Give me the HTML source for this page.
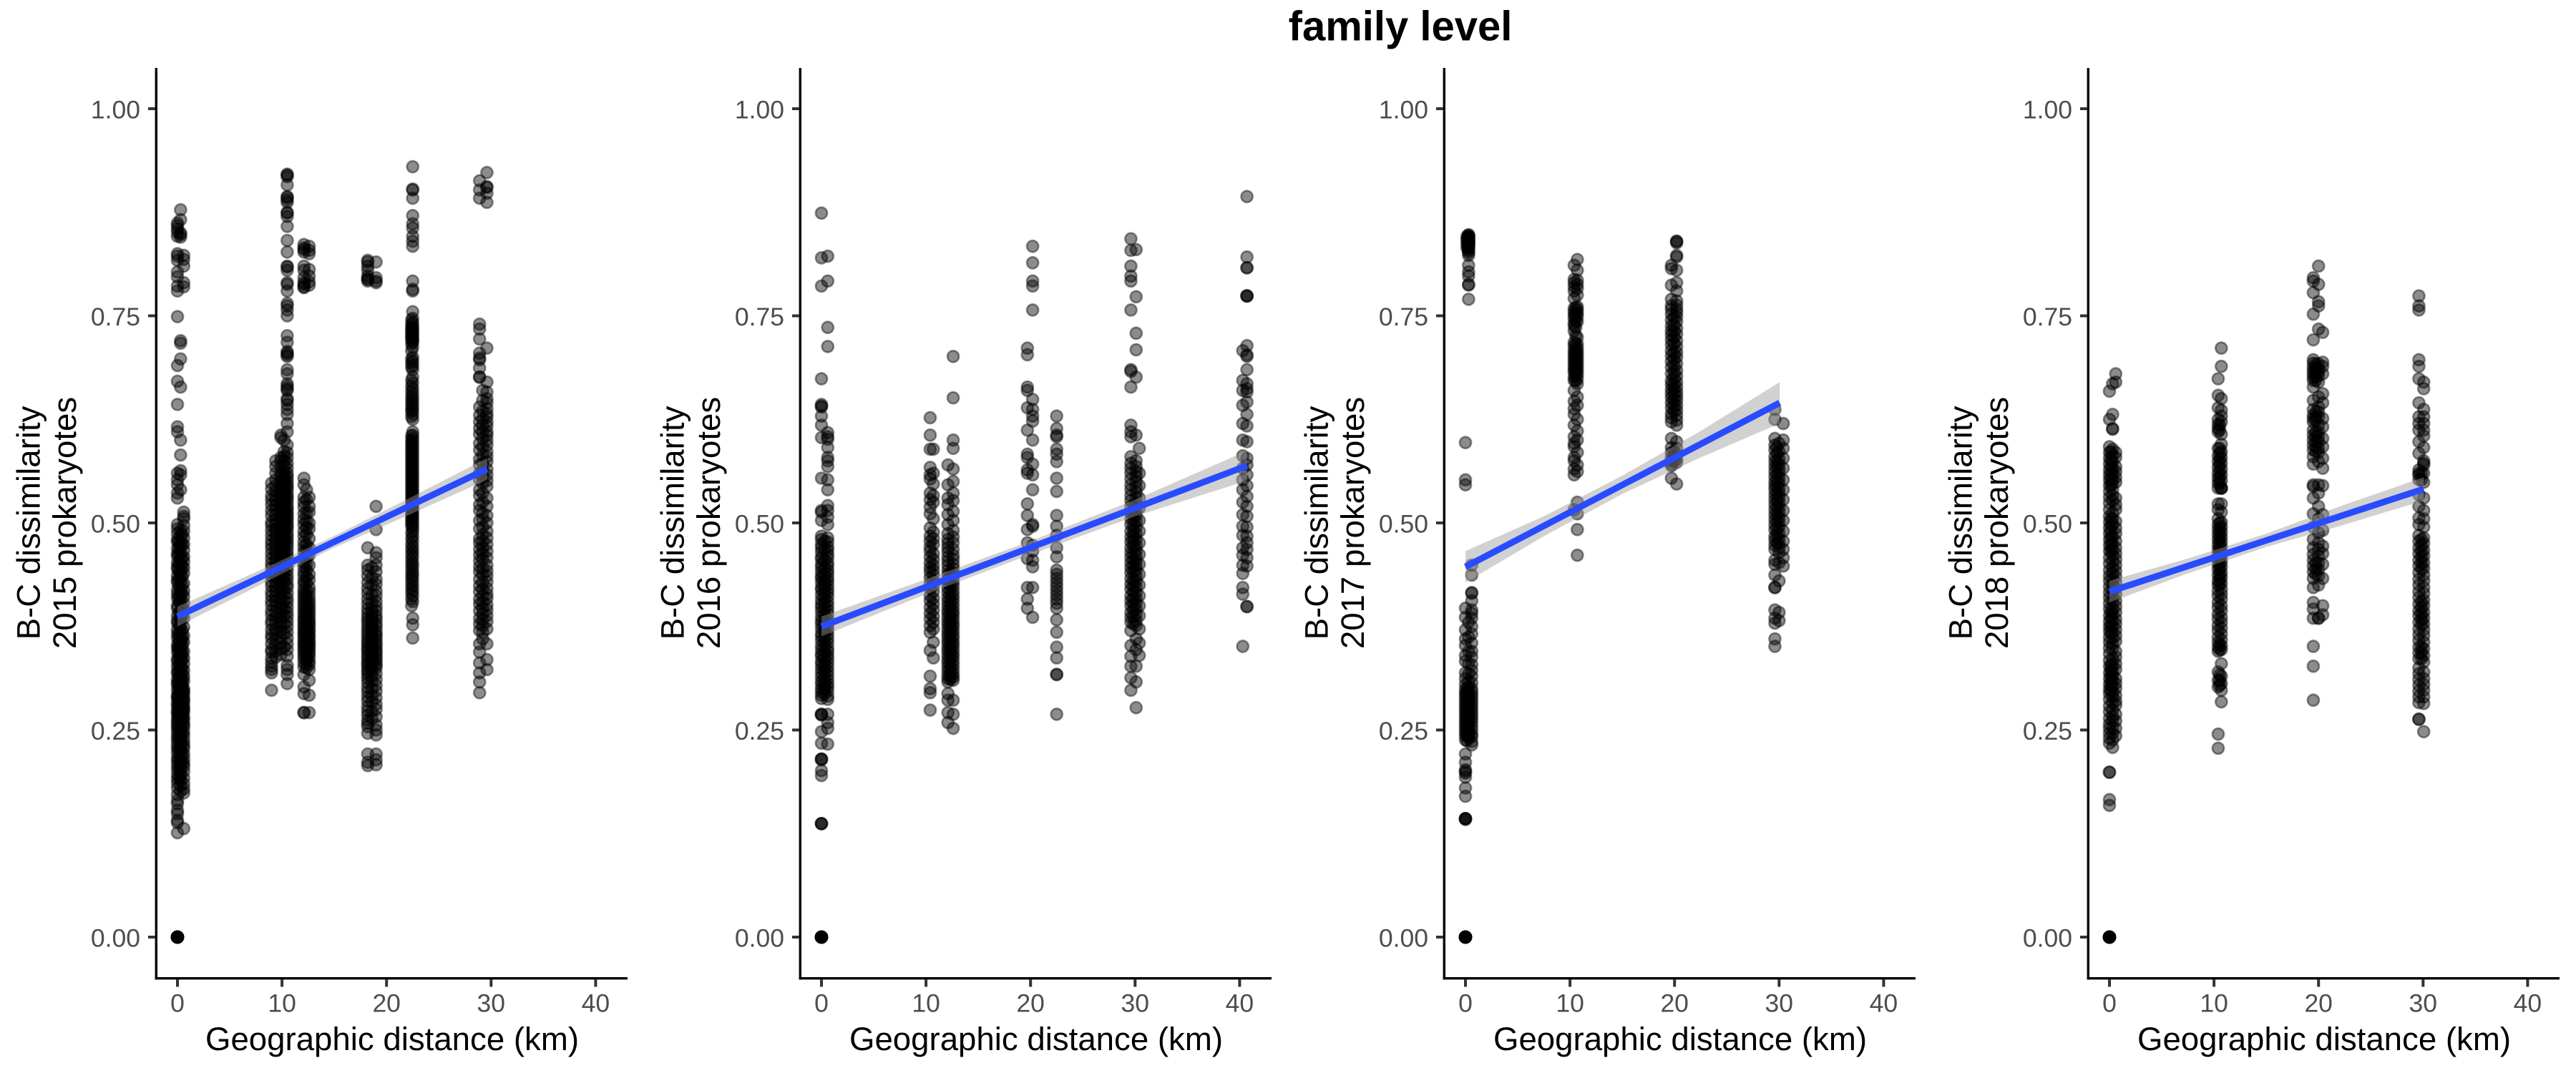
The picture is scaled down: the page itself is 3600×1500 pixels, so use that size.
<!DOCTYPE html>
<html lang="en">
<head>
<meta charset="utf-8">
<title>family level</title>
<style>
html,body{margin:0;padding:0;background:#fff;width:3600px;height:1500px;overflow:hidden}
svg{display:block}
text{font-family:"Liberation Sans",Arial,sans-serif}
</style>
</head>
<body>
<svg id="figure" xmlns="http://www.w3.org/2000/svg" width="3600" height="1500" viewBox="0 0 3600 1500">
<rect x="0" y="0" width="3600" height="1500" fill="#fff"/>
<text x="1957" y="56.5" font-size="58" font-weight="700" text-anchor="middle" fill="#000">family level</text>
</svg>
<script>
const xTickValues = [0, 10, 20, 30, 40];
const yTickValues = [0, 0.25, 0.5, 0.75, 1];
const yTickLabels = ["0.00", "0.25", "0.50", "0.75", "1.00"];
const years = [2015, 2016, 2017, 2018];

const zeroPoints = [0, 0, 0, 0, 0, 0, 0, 0, 0];

const distances2015 = [0, 0.3, 0.6, 9.0, 9.9, 10.5, 12.1, 12.6, 18.2, 19.0, 22.5, 28.9, 29.6, 0.15, 0.45, 9.4, 10.2, 12.35, 18.6, 22.4, 29.2];
const dissimilarity2015 = [
[.862,.859,.855,.851,.846,.825,.822,.817,.803,.797,.786,.780,.749,.690,.671,.643,.616,.610,.560,.552,.546,.536,.530,.498,.493,.487,.480,.477,.469,.463,.460,.452,.447,.444,.436,.431,.428,.419,.414,.409,.400,.397,.388,.382,.379,.371,.366,.361,.353,.349,.344,.336,.333,.327,.321,.318,.311,.307,.304,.298,.292,.290,.287,.282,.279,.274,.271,.268,.263,.260,.256,.253,.249,.244,.240,.236,.231,.227,.222,.216,.212,.207,.202,.196,.191,.186,.180,.172,.165,.161,.153,.149,.141,.138,.126],
[.878,.866,.850,.848,.845,.720,.717,.698,.664,.600,.582,.563,.558,.540,.491,.484,.476,.472,.463,.456,.450,.441,.437,.430,.421,.416,.410,.404,.393,.386,.383,.375,.369,.358,.354,.347,.339,.334,.329,.324,.316,.313,.306,.302,.296,.293,.288,.284,.281,.276,.273,.270,.265,.261,.258,.252,.250,.245,.241,.238,.233,.229,.225,.219,.213,.209,.204,.199,.194,.189,.183,.176],
[.823,.818,.810,.790,.785,.513,.508,.505,.497,.490,.482,.474,.467,.459,.453,.446,.439,.427,.418,.411,.403,.394,.385,.374,.364,.356,.345,.337,.330,.322,.315,.309,.300,.297,.294,.289,.286,.283,.278,.275,.272,.266,.262,.257,.254,.248,.243,.237,.232,.228,.221,.215,.210,.206,.200,.192,.185,.179,.174,.131],
[.548,.541,.533,.528,.522,.515,.509,.501,.497,.491,.485,.479,.474,.469,.463,.457,.451,.446,.440,.436,.429,.424,.417,.412,.406,.401,.394,.389,.382,.378,.371,.365,.361,.354,.347,.344,.337,.332,.327,.323,.319,.298],
[.606,.603,.579,.575,.568,.561,.557,.552,.549,.544,.540,.537,.533,.530,.526,.522,.519,.516,.512,.509,.505,.502,.498,.495,.492,.489,.485,.482,.478,.475,.471,.468,.464,.461,.457,.454,.450,.447,.442,.439,.434,.430,.425,.421,.416,.411,.407,.402,.397,.391,.386,.380,.375,.369,.362,.355,.348,.341],
[.921,.920,.918,.908,.894,.893,.890,.887,.875,.874,.870,.858,.841,.827,.810,.809,.805,.790,.788,.780,.765,.762,.757,.750,.726,.718,.707,.705,.703,.701,.685,.680,.668,.665,.662,.660,.650,.648,.643,.637,.631,.620,.610,.594,.585,.579,.572,.566,.560,.556,.552,.548,.544,.541,.536,.532,.529,.525,.520,.517,.513,.510,.506,.503,.499,.496,.493,.488,.484,.480,.476,.472,.467,.462,.458,.453,.448,.443,.437,.432,.426,.422,.415,.409,.404,.398,.392,.387,.381,.375,.368,.361,.354,.347,.339,.328,.323,.317,.306],
[.836,.832,.830,.827,.810,.805,.796,.790,.788,.785,.784,.554,.546,.531,.525,.519,.511,.504,.498,.490,.484,.477,.471,.465,.458,.452,.447,.441,.436,.430,.426,.420,.416,.412,.408,.404,.400,.396,.392,.388,.384,.381,.377,.374,.370,.367,.364,.361,.357,.354,.351,.347,.344,.340,.336,.331,.326,.317,.302,.294,.271,.271],
[.834,.829,.825,.806,.798,.791,.787,.531,.520,.513,.500,.493,.481,.470,.461,.449,.438,.431,.422,.417,.411,.406,.402,.398,.394,.390,.386,.382,.379,.376,.372,.369,.365,.362,.358,.355,.352,.349,.345,.342,.338,.333,.329,.323,.310,.292,.271],
[.817,.815,.810,.805,.798,.795,.794,.792,.470,.449,.443,.436,.428,.421,.415,.408,.402,.396,.391,.386,.382,.378,.373,.369,.365,.361,.357,.354,.350,.347,.344,.340,.337,.333,.330,.327,.323,.320,.316,.312,.307,.301,.296,.290,.285,.278,.273,.268,.262,.258,.254,.246,.221,.211,.207],
[.815,.796,.792,.790,.520,.492,.464,.458,.449,.441,.432,.426,.418,.412,.405,.399,.394,.388,.384,.379,.375,.370,.366,.363,.359,.355,.352,.348,.345,.342,.338,.335,.331,.328,.325,.318,.311,.304,.297,.289,.281,.275,.266,.256,.250,.244,.221,.214,.208],
[.930,.903,.902,.892,.871,.861,.856,.846,.840,.834,.792,.782,.780,.755,.747,.742,.738,.735,.732,.729,.726,.723,.720,.718,.712,.700,.695,.690,.685,.676,.669,.662,.656,.651,.646,.641,.636,.631,.625,.610,.606,.602,.598,.594,.590,.586,.582,.578,.574,.570,.566,.562,.558,.554,.550,.546,.542,.538,.534,.530,.526,.522,.518,.514,.510,.506,.502,.498,.494,.490,.484,.478,.471,.465,.459,.452,.447,.441,.436,.430,.424,.418,.412,.405,.385,.377,.361],
[.913,.902,.892,.740,.734,.722,.705,.699,.697,.687,.676,.676,.640,.630,.622,.614,.607,.596,.588,.577,.570,.560,.552,.540,.533,.522,.515,.503,.493,.481,.476,.468,.461,.454,.447,.441,.432,.424,.417,.408,.402,.394,.385,.378,.370,.354,.344,.331,.319,.308,.295],
[.923,.906,.905,.898,.887,.711,.670,.658,.650,.645,.638,.632,.628,.622,.617,.610,.606,.600,.594,.586,.580,.574,.565,.558,.551,.544,.530,.520,.509,.500,.490,.482,.474,.466,.458,.449,.442,.436,.429,.421,.414,.409,.401,.395,.388,.381,.372,.354,.335,.323],
[.478,.471,.462,.451,.442,.432,.423,.411,.405,.392,.377,.366,.360,.355,.350,.348,.343,.338,.329,.320,.315,.310,.306,.302,.298,.294,.290,.286,.283,.280,.277,.274,.271,.268,.265,.262,.250,.240,.226,.215,.204,.193],
[.486,.474,.458,.447,.435,.425,.415,.399,.388,.370,.363,.358,.352,.346,.341,.335,.325,.318,.312,.308,.304,.300,.296,.292,.288,.284,.281,.278,.275,.272,.269,.267,.263,.257,.246,.234,.222,.211],
[.575,.568,.560,.552,.545,.538,.533,.527,.521,.516,.510,.504,.499,.493,.488,.483,.477,.472,.466,.461,.456,.451,.445,.440,.434,.428,.423,.418,.411,.405,.399,.392,.386,.379,.372,.366,.359,.352,.345,.338],
[.600,.586,.580,.574,.569,.563,.558,.553,.549,.545,.541,.538,.534,.531,.527,.524,.520,.517,.514,.511,.507,.504,.500,.497,.494,.490,.486,.483,.479,.476,.472,.469,.465,.459,.455,.449,.444,.438,.433,.428,.420,.414,.405,.396,.388,.378,.367,.350],
[.540,.528,.512,.502,.494,.486,.474,.468,.459,.450,.443,.435,.428,.418,.411,.405,.399,.394,.389,.385,.380,.375,.371,.368,.363,.360,.356,.353,.350,.346,.343,.339,.335,.330,.325],
[.446,.434,.425,.413,.404,.398,.392,.387,.383,.379,.374,.371,.367,.364,.360,.356,.353,.349,.346,.343,.339,.336,.332,.329,.326,.321,.315,.309,.300,.292,.284,.272,.264],
[.745,.740,.736,.733,.730,.727,.724,.721,.716,.708,.698,.693,.688,.672,.665,.659,.653,.648,.643,.638,.634,.628,.605,.600,.596,.592,.588,.584,.580,.576,.572,.568,.564,.560,.556,.552,.548,.544,.540,.536,.532,.528,.524,.520,.516,.512,.508,.504,.500,.496,.488,.481,.474,.468,.462,.456,.450,.444,.438,.433,.427,.421,.415,.408,.400],
[.660,.648,.635,.625,.618,.610,.602,.592,.582,.572,.563,.555,.548,.536,.525,.512,.505,.495,.486,.478,.470,.463,.456,.445,.438,.428,.420,.412,.404,.397,.390,.383,.376,.368,.360]
];
const fitX2015 = [0, 29.6];
const fitY2015 = [.387, .565];
const bandX2015 = [0, 7.4, 14.8, 22.2, 29.6];
const bandLow2015 = [.375, .422, .469, .510, .552];
const bandHigh2015 = [.399, .440, .483, .530, .578];

const distances2016 = [0, 0.6, 10.4, 10.7, 12.1, 12.6, 19.7, 20.2, 22.5, 29.6, 30.1, 30.4, 40.3, 40.7, 0.3, 12.35, 29.85];
const dissimilarity2016 = [
[.874,.820,.786,.674,.643,.641,.640,.629,.618,.603,.554,.515,.513,.503,.484,.480,.474,.470,.465,.459,.456,.450,.446,.441,.436,.433,.428,.422,.419,.413,.407,.402,.398,.393,.387,.382,.378,.373,.367,.363,.358,.352,.347,.342,.339,.333,.329,.324,.319,.314,.309,.305,.300,.296,.292,.288,.269,.269,.268,.248,.234,.215,.215,.214,.201,.195,.137,.137,.137],
[.822,.792,.736,.713,.609,.604,.601,.591,.579,.575,.568,.552,.540,.521,.515,.507,.498,.482,.477,.471,.467,.462,.458,.452,.448,.443,.439,.434,.430,.425,.420,.416,.411,.405,.400,.395,.390,.384,.380,.375,.370,.365,.360,.355,.349,.345,.340,.336,.331,.326,.321,.316,.311,.306,.302,.297,.291,.287,.269,.259,.252,.233],
[.627,.606,.589,.567,.558,.553,.536,.528,.519,.511,.494,.484,.478,.471,.466,.459,.452,.446,.441,.434,.427,.421,.412,.406,.398,.391,.384,.376,.368,.346,.315,.300,.295,.274],
[.589,.560,.547,.533,.525,.505,.489,.481,.474,.463,.456,.449,.443,.437,.430,.424,.417,.409,.402,.395,.387,.380,.372,.356,.337],
[.570,.546,.530,.522,.510,.498,.487,.480,.475,.470,.465,.459,.454,.449,.443,.438,.432,.427,.421,.416,.410,.405,.400,.395,.391,.386,.381,.377,.372,.367,.363,.358,.354,.349,.345,.340,.335,.331,.326,.321,.316,.312,.308,.294,.286,.271,.259],
[.701,.651,.600,.590,.565,.550,.536,.527,.514,.503,.491,.483,.476,.468,.461,.456,.450,.445,.440,.435,.429,.424,.418,.413,.408,.403,.398,.393,.389,.384,.379,.375,.370,.365,.361,.356,.352,.347,.342,.338,.333,.328,.323,.318,.314,.310,.286,.269,.252],
[.711,.703,.664,.660,.639,.612,.583,.579,.564,.560,.523,.509,.492,.476,.457,.422,.408,.397],
[.834,.814,.792,.786,.757,.649,.637,.629,.623,.600,.571,.558,.540,.496,.498,.473,.466,.455,.447,.422,.386],
[.629,.614,.606,.604,.589,.583,.574,.554,.538,.509,.496,.485,.470,.459,.443,.438,.433,.428,.423,.418,.413,.408,.403,.397,.383,.368,.350,.337,.317,.317,.269],
[.843,.829,.810,.798,.792,.757,.685,.683,.664,.618,.610,.604,.580,.572,.566,.560,.553,.546,.540,.533,.527,.520,.512,.505,.498,.490,.483,.477,.470,.464,.458,.452,.446,.440,.433,.426,.420,.412,.406,.400,.392,.386,.380,.370,.352,.339,.327,.313,.298],
[.830,.773,.729,.709,.676,.606,.575,.568,.562,.556,.550,.543,.537,.530,.523,.516,.509,.502,.495,.487,.480,.473,.467,.461,.455,.449,.443,.436,.430,.423,.416,.409,.403,.396,.389,.382,.376,.360,.347,.327,.308,.277],
[.590,.560,.545,.530,.518,.503,.490,.476,.462,.450,.438,.425,.412,.400,.388,.372,.355,.340],
[.708,.672,.660,.642,.620,.600,.581,.566,.552,.540,.525,.510,.496,.485,.470,.461,.449,.439,.422,.414,.351],
[.894,.821,.808,.808,.774,.774,.774,.714,.703,.701,.685,.668,.662,.658,.646,.631,.617,.598,.578,.570,.558,.545,.532,.520,.508,.495,.484,.476,.468,.458,.448,.399,.399],
[.478,.468,.455,.445,.437,.431,.426,.421,.415,.409,.403,.396,.389,.383,.377,.372,.368,.362,.356,.350,.343,.337,.330,.325,.320,.313,.307,.303,.299,.294],
[.440,.431,.425,.418,.412,.406,.401,.396,.390,.385,.380,.375,.371,.366,.360,.355,.350,.346,.341,.336,.330,.325,.319,.315,.311],
[.520,.512,.505,.497,.490,.484,.478,.472,.463,.455,.448,.441,.431,.424,.417,.409,.402,.395,.387,.378]
];
const fitX2016 = [0, 40.7];
const fitY2016 = [.375, .569];
const bandX2016 = [0, 10, 20, 30, 40.7];
const bandLow2016 = [.363, .414, .462, .508, .551];
const bandHigh2016 = [.387, .432, .478, .528, .587];

const distances2017 = [0, 0.3, 0.6, 10.4, 10.7, 19.7, 20.2, 29.6, 30.0, 30.4, 0.15, 10.55, 19.95, 29.8];
const dissimilarity2017 = [
[.597,.552,.546,.397,.386,.371,.360,.352,.340,.333,.319,.312,.305,.299,.295,.291,.287,.283,.279,.275,.271,.267,.263,.259,.255,.251,.247,.243,.238,.221,.211,.202,.200,.198,.193,.180,.170,.143,.143,.143,.142],
[.848,.847,.846,.845,.844,.843,.842,.841,.840,.839,.838,.837,.836,.835,.834,.832,.830,.828,.826,.823,.811,.803,.798,.788,.787,.770,.380,.362,.345,.330,.318,.308,.302,.296,.291,.286,.282,.277,.273,.268,.264,.260,.256,.252,.247,.243,.240],
[.449,.437,.416,.415,.406,.395,.391,.385,.375,.366,.355,.345,.338,.329,.322,.315,.307,.300,.296,.292,.288,.284,.280,.276,.272,.268,.264,.260,.255,.250,.245,.242,.236,.232],
[.811,.794,.790,.785,.780,.771,.759,.755,.751,.747,.741,.738,.732,.718,.714,.709,.705,.701,.697,.693,.689,.685,.682,.676,.672,.660,.647,.638,.631,.618,.604,.596,.592,.579,.575,.565,.558,.516],
[.818,.805,.793,.788,.783,.775,.761,.757,.753,.749,.743,.724,.716,.711,.707,.703,.699,.695,.691,.687,.683,.679,.674,.668,.652,.642,.625,.611,.600,.585,.570,.562,.525,.511,.492,.461],
[.811,.807,.787,.770,.762,.758,.752,.745,.738,.732,.727,.721,.715,.708,.702,.695,.688,.680,.672,.667,.661,.656,.651,.645,.639,.632,.627,.622,.602,.591,.585,.579,.575,.571,.569,.554],
[.840,.840,.838,.823,.821,.805,.790,.780,.768,.763,.758,.754,.749,.743,.735,.728,.720,.713,.706,.700,.692,.684,.677,.670,.664,.658,.653,.648,.642,.636,.630,.624,.618,.598,.590,.583,.577,.573,.547],
[.637,.625,.602,.594,.588,.580,.574,.568,.562,.556,.550,.545,.540,.534,.528,.522,.516,.510,.504,.498,.492,.484,.479,.473,.468,.455,.450,.437,.422,.422,.395,.385,.379,.360,.351],
[.596,.586,.577,.571,.565,.560,.554,.548,.542,.536,.531,.525,.519,.513,.507,.501,.495,.487,.481,.475,.470,.464,.452,.430,.392,.382],
[.620,.600,.590,.578,.566,.552,.540,.528,.515,.503,.490,.478,.468,.458,.448],
[.846,.843,.840,.836,.832,.300,.293,.287,.281,.277,.273,.270,.266,.262,.258,.254,.249,.244,.237],
[.760,.752,.744,.736,.726,.716,.708,.702,.696,.690,.684,.678,.671],
[.748,.738,.731,.724,.716,.705,.698,.690,.682,.675,.668,.662,.656,.649,.642,.635,.586,.580,.574],
[.592,.584,.575,.568,.559,.551,.544,.535,.527,.519,.510,.502,.493,.485,.476]
];
const fitX2017 = [0, 30.06];
const fitY2017 = [.447, .645];
const bandX2017 = [0, 7.5, 15, 22.5, 30.06];
const bandLow2017 = [.428, .484, .535, .579, .620];
const bandHigh2017 = [.466, .508, .557, .611, .670];

const distances2018 = [0, 0.3, 0.6, 10.4, 10.7, 19.5, 20, 20.4, 29.6, 30.06, 0.15, 10.55, 19.75, 29.85];
const dissimilarity2018 = [
[.659,.625,.592,.585,.578,.571,.564,.558,.552,.545,.538,.531,.524,.516,.508,.501,.494,.487,.480,.473,.466,.458,.451,.443,.436,.430,.423,.416,.410,.403,.396,.388,.381,.375,.369,.362,.356,.349,.342,.334,.327,.319,.312,.305,.299,.294,.287,.279,.272,.264,.257,.252,.246,.240,.234,.199,.199,.166,.159],
[.668,.631,.614,.613,.589,.581,.574,.566,.560,.553,.547,.540,.533,.527,.512,.505,.498,.484,.476,.468,.461,.454,.446,.440,.433,.426,.420,.412,.405,.397,.390,.383,.376,.368,.361,.354,.348,.336,.329,.321,.316,.310,.303,.295,.290,.283,.274,.266,.261,.253,.246,.238,.229],
[.680,.670,.585,.579,.568,.562,.555,.549,.530,.522,.516,.502,.494,.487,.478,.470,.463,.456,.449,.442,.435,.428,.421,.414,.406,.399,.392,.384,.378,.371,.364,.357,.345,.338,.330,.323,.312,.306,.300,.292,.285,.280,.269,.261,.252,.243],
[.674,.654,.639,.625,.619,.614,.610,.590,.581,.574,.567,.560,.554,.548,.542,.523,.516,.505,.498,.492,.486,.480,.474,.468,.462,.456,.450,.444,.437,.430,.425,.418,.412,.404,.398,.390,.384,.376,.370,.362,.356,.350,.345,.320,.310,.302,.245,.228],
[.711,.689,.650,.636,.629,.622,.607,.595,.586,.579,.572,.565,.558,.551,.542,.542,.542,.523,.513,.501,.495,.489,.483,.477,.471,.465,.459,.453,.447,.440,.434,.427,.420,.414,.408,.400,.394,.386,.380,.373,.366,.359,.352,.347,.330,.315,.306,.298,.284],
[.796,.792,.778,.752,.721,.697,.693,.688,.684,.680,.676,.672,.664,.648,.637,.630,.626,.622,.612,.606,.600,.594,.588,.580,.571,.546,.544,.530,.511,.495,.480,.470,.462,.455,.448,.441,.433,.422,.404,.396,.385,.351,.327,.286],
[.810,.788,.767,.762,.734,.692,.686,.682,.678,.670,.652,.640,.634,.628,.618,.610,.604,.598,.590,.585,.574,.546,.536,.520,.505,.488,.476,.468,.460,.452,.444,.436,.425,.385,.385],
[.730,.694,.689,.680,.656,.645,.626,.616,.602,.592,.578,.566,.545,.510,.491,.472,.463,.450,.433,.400,.389],
[.774,.762,.757,.697,.689,.674,.645,.628,.620,.612,.598,.584,.564,.560,.558,.552,.534,.520,.506,.498,.485,.478,.470,.463,.455,.448,.440,.432,.425,.417,.410,.402,.394,.388,.380,.372,.365,.358,.350,.343,.336,.325,.318,.311,.304,.297,.290,.283,.263,.263],
[.670,.662,.637,.628,.620,.612,.605,.591,.575,.572,.570,.560,.549,.530,.515,.505,.495,.482,.475,.467,.460,.452,.445,.437,.430,.422,.415,.407,.400,.392,.385,.378,.371,.364,.356,.348,.340,.332,.320,.312,.305,.298,.290,.282,.248],
[.586,.576,.568,.560,.553,.546,.505,.497,.490,.482,.474,.466,.393,.385,.376,.368,.328,.322,.316,.310,.304,.298],
[.618,.612,.590,.584,.577,.570,.562,.555,.548,.500,.494,.488,.482,.476,.470,.464,.458,.451,.445,.438,.432,.426,.353,.347,.317,.310,.304],
[.692,.688,.684,.680,.676,.672,.634,.628,.624,.610,.604,.598,.592,.586,.452,.445,.438],
[.560,.552,.480,.473,.466,.459,.452,.445,.405,.398,.391,.384,.378,.350,.343,.336]
];
const fitX2018 = [0, 30.06];
const fitY2018 = [.417, .541];
const bandX2018 = [0, 7.5, 15, 22.5, 30.06];
const bandLow2018 = [.404, .439, .471, .498, .527];
const bandHigh2018 = [.430, .457, .487, .522, .555];

const distancesByPanel = [distances2015, distances2016, distances2017, distances2018];
const dissimilarityByPanel = [dissimilarity2015, dissimilarity2016, dissimilarity2017, dissimilarity2018];
const fitXByPanel = [fitX2015, fitX2016, fitX2017, fitX2018];
const fitYByPanel = [fitY2015, fitY2016, fitY2017, fitY2018];
const bandXByPanel = [bandX2015, bandX2016, bandX2017, bandX2018];
const bandLowByPanel = [bandLow2015, bandLow2016, bandLow2017, bandLow2018];
const bandHighByPanel = [bandHigh2015, bandHigh2016, bandHigh2017, bandHigh2018];

const NS = "http://www.w3.org/2000/svg";
const figure = document.getElementById("figure");
function xScale(km) { return 248 + 14.61 * km; }
function yScale(v) { return 1310 - 1158 * v; }
function make(parent, tag, attrs, text) {
  const el = document.createElementNS(NS, tag);
  for (const k in attrs) el.setAttribute(k, attrs[k]);
  if (text !== undefined) el.textContent = text;
  parent.appendChild(el);
  return el;
}

years.forEach(function (year, p) {
  const panel = make(figure, "g", { transform: "translate(" + (900 * p) + ",0)" });
  
  

  const points = make(panel, "g", {});
  
  
  dissimilarityByPanel[p].forEach(function (column, c) {
    column.forEach(function (value) {
      const dot = make(points, "circle", { cx: xScale(distancesByPanel[p][c]), cy: yScale(value), r: 8.1, fill: "rgba(0,0,0,.45)", stroke: "rgba(0,0,0,.42)", "stroke-width": 2.6 });
      
      
    });
  });
  zeroPoints.forEach(function (value) {
    const dot = make(points, "circle", { cx: xScale(0), cy: yScale(value), r: 8.1, fill: "rgba(0,0,0,.45)", stroke: "rgba(0,0,0,.42)", "stroke-width": 2.6 });
    
    
  });

  const bx = bandXByPanel[p];
  let d = "";
  bx.forEach(function (x, i) { d += (i ? "L" : "M") + xScale(x) + " " + yScale(bandHighByPanel[p][i]); });
  for (let i = bx.length - 1; i >= 0; i--) { d += "L" + xScale(bx[i]) + " " + yScale(bandLowByPanel[p][i]); }
  const ribbon = make(panel, "path", { d: d + "Z", fill: "rgba(153,153,153,.45)" });
  
  

  const fit = make(panel, "line", { x1: xScale(fitXByPanel[p][0]), y1: yScale(fitYByPanel[p][0]), x2: xScale(fitXByPanel[p][1]), y2: yScale(fitYByPanel[p][1]), stroke: "#294BFF", "stroke-width": 9 });
  
  

  const yAxis = make(panel, "line", { x1: 218.3, y1: 95, x2: 218.3, y2: 1369.4, stroke: "#000", "stroke-width": 3.4 });
  
  
  const xAxis = make(panel, "line", { x1: 216.6, y1: 1367.7, x2: 877, y2: 1367.7, stroke: "#000", "stroke-width": 3.4 });
  
  

  yTickValues.forEach(function (v, i) {
    const tick = make(panel, "line", { x1: 207, y1: yScale(v), x2: 217, y2: yScale(v), stroke: "#333", "stroke-width": 4 });
    
    
    const label = make(panel, "text", { x: 196, y: yScale(v) + 13.5, "font-size": 35.5, "text-anchor": "end", fill: "#4d4d4d" }, yTickLabels[i]);
    
    
  });
  xTickValues.forEach(function (v) {
    const tick = make(panel, "line", { x1: xScale(v), y1: 1369, x2: xScale(v), y2: 1379.5, stroke: "#333", "stroke-width": 4 });
    
    
    const label = make(panel, "text", { x: xScale(v), y: 1414.5, "font-size": 35.5, "text-anchor": "middle", fill: "#4d4d4d" }, String(v));
    
    
  });

  const xTitle = make(panel, "text", { x: 548, y: 1468, "font-size": 45.6, "text-anchor": "middle", fill: "#000" }, "Geographic distance (km)");
  
  
  const yTitle1 = make(panel, "text", { transform: "translate(55.5,731) rotate(-90)", "font-size": 45.6, "text-anchor": "middle", fill: "#000" }, "B-C dissimilarity");
  
  
  const yTitle2 = make(panel, "text", { transform: "translate(106,731) rotate(-90)", "font-size": 45.6, "text-anchor": "middle", fill: "#000" }, year + " prokaryotes");
  
  
});
</script>
</body>
</html>
